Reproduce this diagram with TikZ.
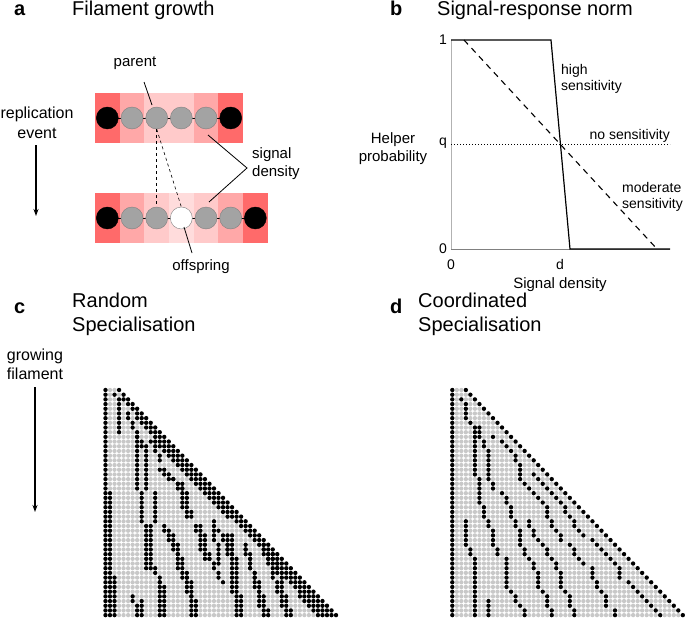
\documentclass[tikz,border=0pt]{standalone}
\usepackage{fontspec}
\setmainfont{Liberation Sans}
\usetikzlibrary{arrows.meta}
\definecolor{rdark}{HTML}{FF6A6A}
\definecolor{rmed}{HTML}{FFA8A8}
\definecolor{rlight}{HTML}{FFCACA}
\definecolor{rlite}{HTML}{FFDCDC}
\definecolor{cellgray}{HTML}{A3A3A3}
\definecolor{dotgray}{HTML}{C8C8C8}
\def\sx{4.52}\def\sy{4.69}\def\rad{2.15}
\newcommand\drawstreaks[2]{%
  \foreach \ra/\ca/\rb/\cb in {#2}{
    \foreach \r in {\ra,...,\rb}{
      \pgfmathsetmacro\cc{round(\ca+(\r-\ra)*(\cb-\ca)/max(\rb-\ra,1))}
      \fill[black] (#1+\cc*\sx,390+\r*\sy) circle (\rad);
    }}}
\begin{document}
\begin{tikzpicture}[x=1pt,y=-1pt,
  title/.style={font=\fontsize{20}{24}\selectfont, anchor=base west, inner sep=0},
  letter/.style={font=\fontsize{20}{24}\selectfont\bfseries, anchor=base west, inner sep=0},
  lab/.style={font=\fontsize{15}{18}\selectfont, inner sep=0, align=center},
  slab/.style={font=\fontsize{14}{16.5}\selectfont, inner sep=0},
  blk/.style={circle, minimum size=22pt, inner sep=0, fill=black, draw=black},
  gry/.style={circle, minimum size=22pt, inner sep=0, fill=cellgray, draw=gray},
  wht/.style={circle, minimum size=22pt, inner sep=0, fill=white, draw=gray},
  arr/.style={-{Stealth[length=7pt,width=5pt]}, line width=1.2pt},
  leader/.style={line width=0.8pt}]
\useasboundingbox (0,0) rectangle (685,618);

% ---------------- panel a ----------------
\node[letter] (la) at (14,16) {a};
\node[title] (ta) at (72,16) {Filament growth};
\foreach \i/\col in {0/rdark,1/rmed,2/rlight,3/rlight,4/rmed,5/rdark}
  \fill[\col] (95+\i*24.67,93) rectangle ++(24.67,50);
\draw[line width=0.6pt] (107.3,118) -- (230.7,118);
\node[blk] (t1) at (107.3,118) {};
\node[gry] (t2) at (132,118) {};
\node[gry] (t3) at (156.7,118) {};
\node[gry] (t4) at (181.3,118) {};
\node[gry] (t5) at (206,118) {};
\node[blk] (t6) at (230.7,118) {};
\foreach \i/\col in {0/rdark,1/rmed,2/rlight,3/rlite,4/rlight,5/rmed,6/rdark}
  \fill[\col] (95+\i*24.67,193) rectangle ++(24.67,50);
\draw[line width=0.6pt] (107.3,218) -- (255,218);
\node[blk] (b1) at (107.3,218) {};
\node[gry] (b2) at (132,218) {};
\node[gry] (b3) at (156.7,218) {};
\node[wht] (b4) at (181.3,218) {};
\node[gry] (b5) at (206,218) {};
\node[gry] (b6) at (230.7,218) {};
\node[blk] (b7) at (255.3,218) {};
\draw[dashed, line width=0.6pt] (t3.south) -- (b3.north);
\draw[dashed, line width=0.6pt] (t3.south) -- (b4.north);
\node[lab] (parent) at (135,63) {parent};
\coordinate (pe) at (152,105);
\draw[leader] (144,82) -- (pe);
\node[lab, align=left, anchor=west] (sig) at (252,164) {signal\\density};
\coordinate (sj) at (247,168);
\coordinate (s1) at (208,135);
\coordinate (s2) at (209,202);
\draw[leader] (s1) -- (sj) -- (s2);
\node[lab] (off) at (201,267) {offspring};
\coordinate (oe) at (184,227);
\draw[leader] (oe) -- (192,253);
\node[lab, font=\fontsize{16}{20}\selectfont] (rep) at (37,123) {replication\\event};
\coordinate (ra) at (36,216);
\draw[arr] (36,145) -- (ra);

% ---------------- panel b ----------------
\node[letter] (lb) at (390,16) {b};
\node[title] (tb) at (437,16) {Signal-response norm};
\coordinate (o) at (451,249);
\draw[gray!60, line width=0.8pt] (451,40) -- (o);
\draw[gray, line width=0.8pt] (o) -- (670,249);
\draw[line width=1.2pt] (451,40) -- (551,40) -- (570,249) -- (670,249);
\draw[dashed, dash pattern=on 6pt off 5pt, line width=1.1pt] (464,40) -- (657,249);
\draw[dotted, line width=1pt] (451,144) -- (670,144);
\node[slab, anchor=east] (y1) at (447,40) {1};
\node[slab, anchor=east] (yq) at (447,143) {q};
\node[slab, anchor=east] (y0) at (447,249) {0};
\node[slab] (x0) at (451,265) {0};
\node[slab] (xd) at (560,264) {d};
\node[lab] (xl) at (560,285) {Signal density};
\node[lab, align=center] (yl) at (393,149) {Helper\\probability};
\node[slab, anchor=west, align=left] (hs) at (561,79) {high\\sensitivity};
\node[slab, anchor=east] (ns) at (670,136) {no sensitivity};
\node[slab, anchor=west, align=left] (ms) at (622,197) {moderate\\sensitivity};

% ---------------- panels c, d ----------------
\node[letter] (lc) at (14,313) {c};
\node[title, align=left, anchor=north west] (tc) at (72,293) {Random\\Specialisation};
\node[letter] (ld) at (390,313) {d};
\node[title, align=left, anchor=north west] (td) at (418,293) {Coordinated\\Specialisation};
\node[lab, font=\fontsize{16}{19}\selectfont] (gf) at (35,364) {growing\\filament};
\coordinate (ga) at (35,512);
\draw[arr] (35,387) -- (ga);

\foreach \xo in {105.5,452.3}{
  \foreach \r in {0,...,48}{
    \pgfmathtruncatemacro\n{\r+3}
    \foreach \c in {0,...,\n}
      \fill[dotgray] (\xo+\c*\sx,390+\r*\sy) circle (\rad);
  }
}
% panel c black cells
\drawstreaks{105.5}{0/0/48/0, 22/1/48/1, 40/2/48/2,
 0/3/48/51, 2/4/48/50, 6/7/48/49, 11/11/27/27, 35/35/48/48, 44/43/48/47,
 1/2/1/2, 2/3/9/3, 5/5/12/8, 10/7/21/7, 12/9/21/9, 11/10/15/12,
 22/8/28/8, 22/11/28/11, 29/9/38/9, 29/10/38/10, 38/11/41/12, 41/12/48/12, 42/13/48/13,
 17/12/19/14, 17/13/19/15, 19/15/21/17, 20/16/27/18, 20/17/27/19,
 29/13/33/16, 30/13/33/15, 33/15/40/17, 34/16/40/18, 40/18/48/19, 41/19/48/20,
 29/20/36/22, 29/21/36/23, 36/23/41/26, 44/6/48/7, 45/8/48/8,
 28/24/37/25, 30/25/35/28, 31/27/48/29, 31/28/48/30, 33/31/48/35, 34/31/48/36,
 33/35/48/40, 35/37/48/41}
% panel d black cells
\drawstreaks{452.3}{0/0/48/0, 0/3/48/51,
 2/2/2/2, 3/3/6/3, 7/4/7/4, 8/5/18/5, 19/6/24/6, 25/7/27/7, 28/8/29/8, 30/9/33/9,
 34/10/35/10, 36/12/42/12, 43/13/43/13, 44/14/45/14, 46/15/46/15, 47/16/48/16,
 8/6/10/6, 11/7/12/7, 13/8/19/8, 20/9/21/9, 22/11/22/11, 23/12/24/12, 25/13/27/13,
 28/14/29/14, 30/15/33/15, 34/16/35/16, 36/17/36/17, 37/18/38/18, 39/19/42/19,
 43/20/43/20, 44/21/46/21, 47/22/48/22,
 10/9/10/9, 11/11/13/13, 14/14/15/14, 16/15/19/15, 20/16/24/20, 25/21/27/21,
 28/22/29/22, 30/23/30/23, 31/24/32/24, 33/26/33/26, 34/27/35/27, 36/28/37/29,
 38/31/40/31, 41/32/42/32, 43/33/43/33, 44/34/46/34, 47/36/48/36,
 18/18/24/24, 25/25/26/25, 27/26/27/26, 28/27/29/27, 30/28/31/29, 32/31/37/36,
 38/37/40/37, 41/39/42/40, 43/41/48/46,
 28/3/33/3, 34/4/35/4, 36/5/48/5, 45/8/48/8,
 28/17/29/17, 30/18/31/18, 32/19/32/19, 33/20/33/20, 34/21/35/21, 36/22/36/22,
 37/23/38/23, 39/24/42/24, 43/25/43/25, 44/26/46/26, 47/27/48/27}
\end{tikzpicture}
\end{document}
